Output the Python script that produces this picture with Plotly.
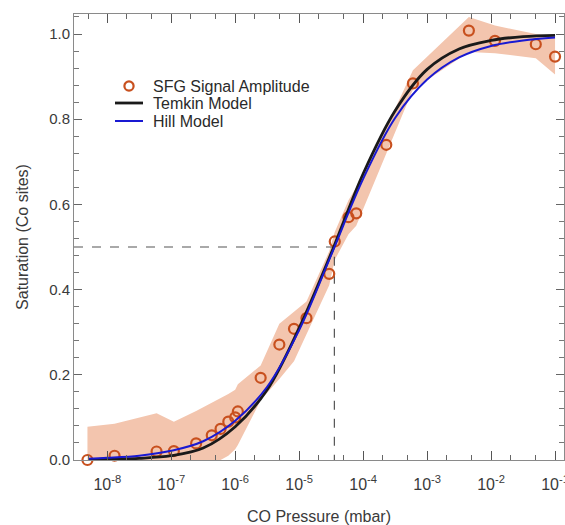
import plotly.graph_objects as go

# SFG signal amplitude data (pressure in mbar, saturation)
pressure = [4.9e-9, 1.3e-8, 5.9e-8, 1.1e-7, 2.45e-7, 4.3e-7, 5.9e-7, 7.8e-7, 1.0e-6, 1.1e-6,
            2.5e-6, 4.9e-6, 8.3e-6, 1.3e-5, 2.95e-5, 3.6e-5, 5.9e-5, 7.8e-5, 2.3e-4, 6.0e-4,
            4.5e-3, 1.15e-2, 5.0e-2, 1.0e-1]
saturation = [0.0, 0.010, 0.020, 0.021, 0.039, 0.058, 0.073, 0.090, 0.100, 0.114,
              0.193, 0.271, 0.308, 0.333, 0.437, 0.513, 0.570, 0.579, 0.740, 0.884,
              1.008, 0.984, 0.976, 0.947]
band_low = [0.0, 0.0, 0.0, 0.0, 0.0, 0.0, 0.0, 0.010, 0.025, 0.035,
            0.140, 0.190, 0.232, 0.293, 0.410, 0.470, 0.530, 0.550, 0.720, 0.870,
            0.958, 0.955, 0.943, 0.905]
band_high = [0.078, 0.085, 0.110, 0.090, 0.115, 0.134, 0.145, 0.155, 0.165, 0.178,
             0.222, 0.320, 0.348, 0.372, 0.490, 0.535, 0.610, 0.640, 0.780, 0.915,
             1.040, 1.020, 1.000, 0.995]

# model curves
model_p = [5e-9, 1e-8, 3.16e-8, 1e-7, 3.16e-7, 1e-6, 3.16e-6, 1e-5, 3.16e-5, 1e-4,
           3.16e-4, 1e-3, 3.16e-3, 1e-2, 3.16e-2, 1e-1]
temkin = [0.001, 0.002, 0.004, 0.010, 0.028, 0.078, 0.165, 0.310, 0.485, 0.672,
          0.820, 0.917, 0.965, 0.985, 0.994, 0.997]
hill = [0.003, 0.005, 0.010, 0.0215, 0.044, 0.092, 0.172, 0.305, 0.481, 0.660,
        0.803, 0.893, 0.945, 0.972, 0.985, 0.992]

legend_names = ["SFG Signal Amplitude", "Temkin Model", "Hill Model"]

half_p = 3.55e-5
half_sat = 0.5
xmin_p = 10 ** -8.52

tick_vals = [1e-8, 1e-7, 1e-6, 1e-5, 1e-4, 1e-3, 1e-2, 1e-1]
tick_text = ["10<sup>-8</sup>", "10<sup>-7</sup>", "10<sup>-6</sup>", "10<sup>-5</sup>",
             "10<sup>-4</sup>", "10<sup>-3</sup>", "10<sup>-2</sup>", "10<sup>-1</sup>"]

band_color = "rgb(243,197,174)"
marker_color = "rgb(200,80,30)"
temkin_color = "#1a1a1a"
hill_color = "rgb(25,25,210)"

W, H = 565, 525
ML, MR, MT, MB = 74, 1, 14, 65
PW, PH = W - ML - MR, H - MT - MB


def px(xp):
    return (xp - ML) / PW


def py(yp):
    return (H - MB - yp) / PH


fig = go.Figure()

# band
fig.add_trace(go.Scatter(x=pressure + pressure[::-1], y=band_high + band_low[::-1],
                         fill="toself", fillcolor=band_color, line=dict(width=0),
                         mode="lines", showlegend=False, hoverinfo="skip"))

# dashed guide lines
fig.add_trace(go.Scatter(x=[xmin_p, half_p, half_p], y=[half_sat, half_sat, 0],
                         mode="lines", line=dict(color="#555555", width=1.2, dash="dash"),
                         showlegend=False, hoverinfo="skip"))

fig.add_trace(go.Scatter(x=pressure, y=saturation, mode="markers", name=legend_names[0],
                         marker=dict(symbol="circle-open", size=10, color=marker_color,
                                     line=dict(width=2.2, color=marker_color)),
                         cliponaxis=False, showlegend=False))
fig.add_trace(go.Scatter(x=model_p, y=temkin, mode="lines", name=legend_names[1],
                         line=dict(color=temkin_color, width=2.8, shape="spline"),
                         showlegend=False))
fig.add_trace(go.Scatter(x=model_p, y=hill, mode="lines", name=legend_names[2],
                         line=dict(color=hill_color, width=2, shape="spline"),
                         showlegend=False))

# manual legend (tighter spacing, as in the original)
leg_rows = [86, 103, 121]
leg_sym_x0, leg_sym_x1, leg_text_x = 115, 143, 151
shapes = [
    dict(type="circle", xref="paper", yref="paper", xsizemode="pixel", ysizemode="pixel",
         xanchor=px((leg_sym_x0 + leg_sym_x1) / 2), yanchor=py(leg_rows[0]),
         x0=-4.6, x1=4.6, y0=-4.6, y1=4.6,
         line=dict(color=marker_color, width=2.2), fillcolor="white"),
    dict(type="line", xref="paper", yref="paper", x0=px(leg_sym_x0), x1=px(leg_sym_x1),
         y0=py(leg_rows[1]), y1=py(leg_rows[1]), line=dict(color=temkin_color, width=2.8)),
    dict(type="line", xref="paper", yref="paper", x0=px(leg_sym_x0), x1=px(leg_sym_x1),
         y0=py(leg_rows[2]), y1=py(leg_rows[2]), line=dict(color=hill_color, width=2)),
]
annotations = [
    dict(text=name, xref="paper", yref="paper", x=px(leg_text_x), y=py(row),
         xanchor="left", yanchor="middle", showarrow=False,
         font=dict(size=16, color="#2a2a2a"))
    for name, row in zip(legend_names, leg_rows)
]

axis_color = "#8a8a8a"
fig.update_layout(
    width=W, height=H,
    margin=dict(l=ML, r=MR, t=MT, b=MB, autoexpand=False),
    paper_bgcolor="white", plot_bgcolor="white",
    font=dict(family="Liberation Sans, Arial, sans-serif", color="#3a3a3a", size=15),
    showlegend=False,
    shapes=shapes, annotations=annotations,
    xaxis=dict(type="log", range=[-8.52, -0.86], showgrid=False, zeroline=False,
               showline=True, linecolor=axis_color, linewidth=1, mirror="ticks",
               ticks="inside", ticklen=9, tickcolor="#555555", tickwidth=1,
               tickvals=tick_vals, ticktext=tick_text, tickfont=dict(size=16),
               ticklabelstandoff=10, ticklabeloverflow="allow", automargin=False,
               minor=dict(ticks="inside", ticklen=5, tickcolor="#666666", showgrid=False),
               title=dict(text="CO Pressure (mbar)", font=dict(size=16), standoff=18)),
    yaxis=dict(range=[0, 1.047], showgrid=False, zeroline=False,
               showline=True, linecolor=axis_color, linewidth=1, mirror="ticks",
               ticks="inside", ticklen=8, tickcolor="#666666", tickwidth=1,
               tickvals=[0, 0.2, 0.4, 0.6, 0.8, 1.0], tickformat=".1f", tickfont=dict(size=15),
               automargin=False,
               minor=dict(ticks="inside", ticklen=5, dtick=0.04, tickcolor="#777777", showgrid=False),
               title=dict(text="Saturation (Co sites)", font=dict(size=16), standoff=16)),
)

fig.write_html("out.html", config={"displayModeBar": False},
               post_script="document.body.style.margin='0';")
